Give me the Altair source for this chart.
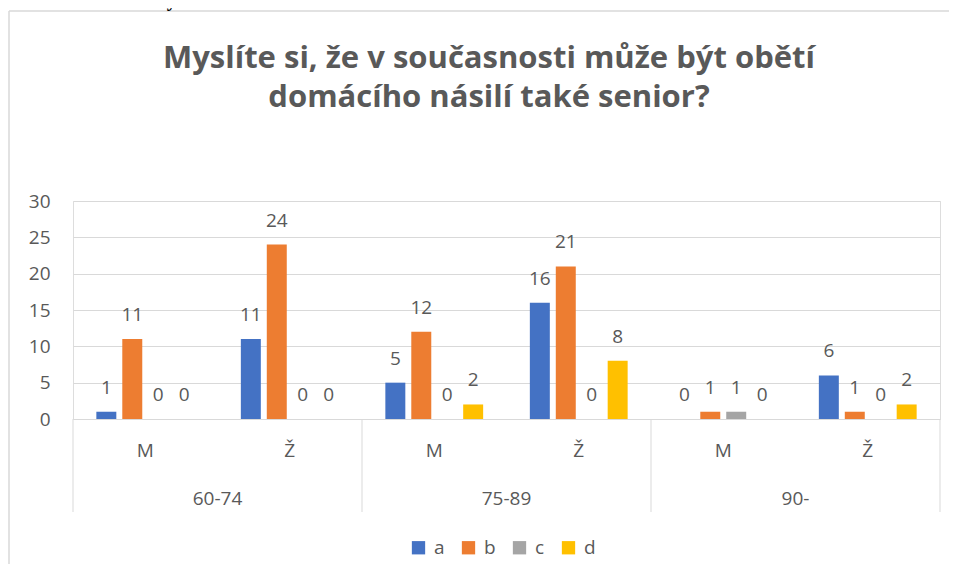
import altair as alt
import pandas as pd

# ---- data ----
groups = ["60-74", "60-74", "75-89", "75-89", "90-", "90-"]
sexes = ["M", "Ž", "M", "Ž", "M", "Ž"]
series = ["a", "b", "c", "d"]
vals_a = [1, 11, 5, 16, 0, 6]
vals_b = [11, 24, 12, 21, 1, 1]
vals_c = [0, 0, 0, 0, 1, 0]
vals_d = [0, 0, 2, 8, 0, 2]
group_labels = ["60-74", "75-89", "90-"]
y_ticks = [0, 5, 10, 15, 20, 25, 30]
title_lines = ["Myslíte si, že v současnosti může být obětí", "domácího násilí také senior?"]
caption = "Graf č. 19 Může být obětí domácího násilí také senior"

colors = ["#4472C4", "#ED7D31", "#A5A5A5", "#FFC000"]
GRAY = "#595959"
LINE = "#D9D9D9"
FONT = "Open Sans"

W, H = 867, 218

keys = [f"{g}|{s}" for g, s in zip(groups, sexes)]
rows = []
for name, vals in zip(series, [vals_a, vals_b, vals_c, vals_d]):
    for k, v in zip(keys, vals):
        rows.append({"key": k, "series": name, "value": v})
df = pd.DataFrame(rows)

xscale = alt.Scale(domain=keys, paddingInner=0, paddingOuter=0)
xaxis = alt.Axis(title=None, labelExpr="split(datum.label, '|')[1]", labelAngle=0,
                 ticks=False, grid=False, domainColor=LINE, labelPadding=22,
                 labelFont=FONT, labelFontSize=19, labelColor=GRAY)
yaxis = alt.Axis(title=None, values=y_ticks, domain=False, ticks=False, gridColor=LINE,
                 labelPadding=23, labelFont=FONT, labelFontSize=19, labelColor=GRAY)

bars = alt.Chart(df).mark_bar().encode(
    x=alt.X("key:N", scale=xscale, sort=keys, axis=xaxis),
    xOffset=alt.XOffset("series:N", scale=alt.Scale(domain=series, paddingInner=0.23, paddingOuter=0.9)),
    y=alt.Y("value:Q", scale=alt.Scale(domain=[0, 30], nice=False), axis=yaxis),
    color=alt.Color("series:N", scale=alt.Scale(domain=series, range=colors),
                    legend=alt.Legend(title=None, orient="none", direction="horizontal",
                                      legendX=336, legendY=337, symbolType="square",
                                      symbolSize=177, symbolStrokeWidth=0, labelFont=FONT,
                                      labelFontSize=19, labelColor=GRAY, labelOffset=6,
                                      columnPadding=14, padding=0)),
)

labels = alt.Chart(df).mark_text(baseline="alphabetic", dy=-18, font=FONT, fontSize=19, color=GRAY).encode(
    x=alt.X("key:N", scale=xscale, sort=keys, axis=xaxis),
    xOffset=alt.XOffset("series:N", scale=alt.Scale(domain=series, paddingInner=0.23, paddingOuter=0.9)),
    y=alt.Y("value:Q", scale=alt.Scale(domain=[0, 30], nice=False), axis=yaxis),
    text="value:Q",
)

sep_df = pd.DataFrame({"key": [f"{g}|M" for g in group_labels]})
seps = alt.Chart(sep_df).mark_rule(color=LINE, strokeWidth=1).encode(
    x=alt.X("key:N", scale=xscale, sort=keys, axis=xaxis, bandPosition=0),
    y=alt.value(H), y2=alt.value(H + 93),
)
end_df = pd.DataFrame({"key": [keys[-1]]})
end_sep = alt.Chart(end_df).mark_rule(color=LINE, strokeWidth=1).encode(
    x=alt.X("key:N", scale=xscale, sort=keys, axis=xaxis, bandPosition=1),
    y=alt.value(H), y2=alt.value(H + 93),
)

glab_df = pd.DataFrame({"key": [f"{g}|Ž" for g in group_labels], "label": group_labels})
glabs = alt.Chart(glab_df).mark_text(baseline="alphabetic", font=FONT, fontSize=19, color=GRAY).encode(
    x=alt.X("key:N", scale=xscale, sort=keys, axis=xaxis, bandPosition=0),
    y=alt.value(H + 86),
    text="label:N",
)

one = pd.DataFrame({"k": [0]})
top_border = alt.Chart(one).mark_rule(color=LINE, strokeWidth=1.5).encode(
    x=alt.value(-64), x2=alt.value(W + 9), y=alt.value(-190))
left_border = alt.Chart(one).mark_rule(color=LINE, strokeWidth=1.5).encode(
    x=alt.value(-64), y=alt.value(-190), y2=alt.value(H + 145))
cap = alt.Chart(one).mark_text(text=caption, font="Liberation Serif", fontWeight="bold",
                               fontSize=20, align="left", baseline="alphabetic", color="black").encode(
    x=alt.value(-60), y=alt.value(-195))
title = alt.Chart(one).mark_text(text=title_lines, font=FONT, fontSize=31, fontWeight="bold",
                                 color=GRAY, align="center", baseline="alphabetic",
                                 lineHeight=39).encode(
    x=alt.value(416), y=alt.value(-133))

chart = alt.layer(top_border, left_border, cap, title, seps, end_sep, bars, labels, glabs).properties(
    width=W, height=H,
    autosize=alt.AutoSizeParams(type="none"),
    padding={"left": 65, "top": 193, "right": 9, "bottom": 145},
).configure_view(stroke=None).configure(background="white")

chart.save("out.html", embed_options={"renderer": "svg", "actions": False})
